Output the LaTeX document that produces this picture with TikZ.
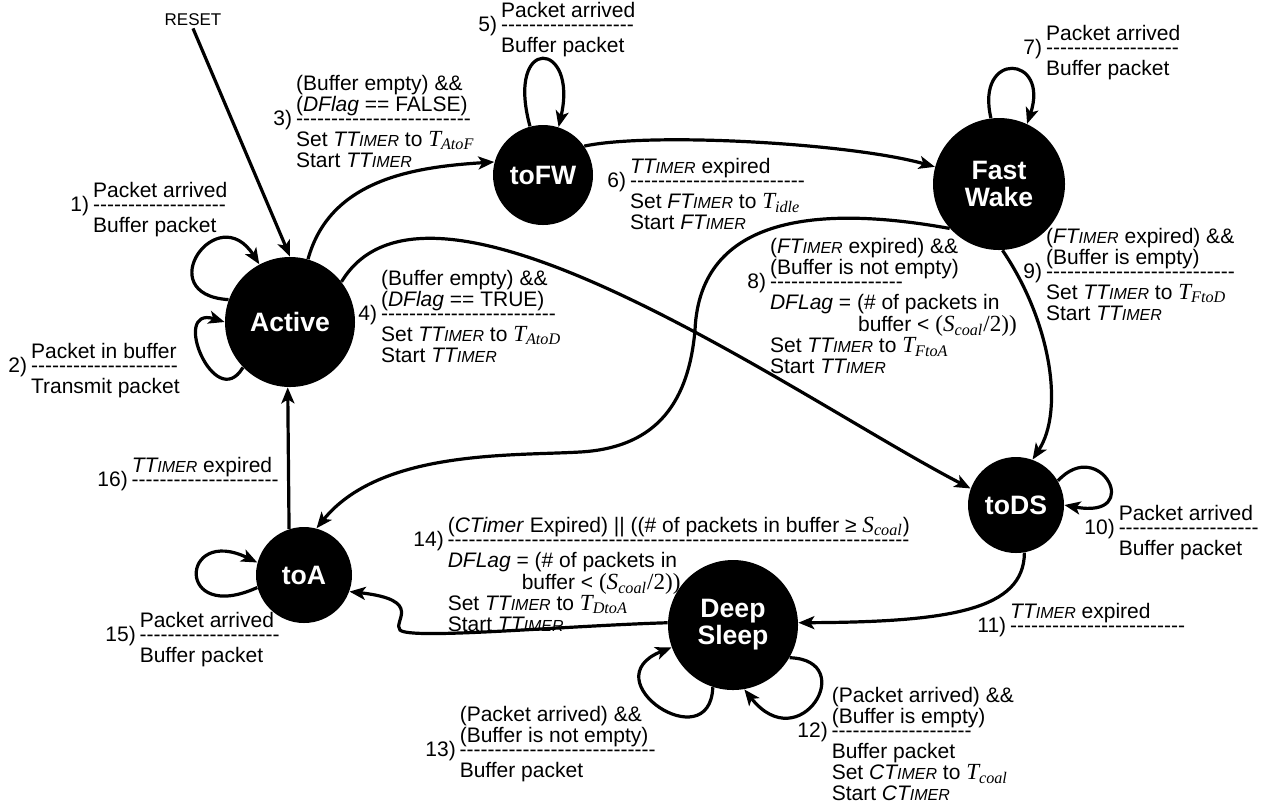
\documentclass[tikz,border=0pt]{standalone}
\usepackage{fontspec}
\setmainfont{Liberation Sans}
\newfontfamily\serf{Liberation Serif}[Scale=1.1]
\usetikzlibrary{arrows.meta}
\ExplSyntaxOn
\NewDocumentCommand\hyrow{m}{\prg_replicate:nn{#1}{\mbox{-}}}
\ExplSyntaxOff
\newcommand\tmr[1]{\textit{#1{\fontsize{8}{8}\selectfont IMER}}}
\newcommand\Tsub[2]{{\serf\itshape #1\textsubscript{#2}}}
\newcommand\scoal{{\serf(\textit{S}\textsubscript{\textit{coal}}/2))}}
\newenvironment{lb}{\begin{tabular}[t]{@{}r@{\hspace{2pt}}l@{}}}{\end{tabular}}
\begin{document}
\begin{tikzpicture}[x=0.5pt,y=-0.5pt,
  st/.style={circle,fill=black,text=white,inner sep=0pt,align=center,font=\fontsize{13.3}{13.5}\selectfont\bfseries},
  lbl/.style={inner sep=0pt,anchor=base west,font=\fontsize{10.5}{10}\selectfont},
  arr/.style={line width=1.6pt,-{Stealth[length=8pt,width=6.5pt,inset=2pt]}},
]
\useasboundingbox (0,0) rectangle (1278,811);

\node[st,minimum size=65pt] (act) at (290,322) {Active};
\node[st,minimum size=50pt] (tofw) at (543,175) {toFW};
\node[st,minimum size=66pt] (fw) at (999,184) {Fast\\Wake};
\node[st,minimum size=48pt] (tods) at (1016,505) {toDS};
\node[st,minimum size=65pt] (ds) at (733,625) {Deep\\Sleep};
\node[st,minimum size=48pt] (toa) at (304,575) {toA};
\node[font=\fontsize{8.5}{9}\selectfont,inner sep=1pt] (reset) at (193,20) {RESET};

\draw[arr] (reset.south) -- (act.north);
\draw[arr] (act.160) .. controls +(-79,-5) and +(-42,-66) .. (act.118);
\draw[arr] (act.224) .. controls +(-28,47) and +(-55,-17) .. (act.180);
\draw[arr] (act.74) .. controls +(22,-80) and +(-80,5) .. (tofw.165);
\draw[arr] (act.38) .. controls (430,135) and (800,400) .. (tods.160);
\draw[arr] (tofw.105) .. controls +(-25,-92) and +(20,-87) .. (tofw.72);
\draw[arr] (tofw.35) .. controls (650,132) and (850,143) .. (fw.165);
\draw[arr] (fw.97) .. controls (975,50) and (1050,55) .. (fw.65);
\draw[arr] (fw.222) .. controls (820,205) and (700,215) .. (695,330)
   .. controls (688,410) and (650,448) .. (580,452)
   .. controls (510,456) and (380,450) .. (toa.75);
\draw[arr] (fw.273) .. controls (1050,320) and (1065,410) .. (tods.70);
\draw[arr] (tods.30) .. controls (1100,435) and (1145,520) .. (tods.0);
\draw[arr] (tods.280) .. controls (1024,610) and (950,622) .. (ds.2);
\draw[arr] (ds.-30) .. controls (860,660) and (800,760) .. (ds.-80);
\draw[arr] (ds.252) .. controls (710,760) and (590,680) .. (ds.200);
\draw[arr] (ds.178) .. controls (560,626) and (410,640) .. (400,630)
   .. controls (392,622) and (425,600) .. (toa.-20);
\draw[arr] (toa.195) .. controls (175,625) and (180,525) .. (toa.165);
\draw[arr] (toa.108) -- (act.268);

\node[lbl] (l1) at (70,197) {\begin{lb} & Packet arrived\\[-3.5pt] 1) & \hyrow{19}\\ & Buffer packet\end{lb}};
\node[lbl] (l2) at (8,358) {\begin{lb} & Packet in buffer\\[-3.5pt] 2) & \hyrow{21}\\ & Transmit packet\end{lb}};
\node[lbl] (l3) at (273,90) {\begin{lb} & (Buffer empty) \&\&\\ & (\textit{DFlag} == FALSE)\\[-3.5pt] 3) & \hyrow{25}\\ & Set \tmr{TT} to \Tsub{T}{AtoF}\\ & Start \tmr{TT}\end{lb}};
\node[lbl] (l4) at (358,285) {\begin{lb} & (Buffer empty) \&\&\\ & (\textit{DFlag} == TRUE)\\[-3.5pt] 4) & \hyrow{25}\\ & Set \tmr{TT} to \Tsub{T}{AtoD}\\ & Start \tmr{TT}\end{lb}};
\node[lbl] (l5) at (478,17) {\begin{lb} & Packet arrived\\[-3.5pt] 5) & \hyrow{19}\\ & Buffer packet\end{lb}};
\node[lbl] (l6) at (607,173) {\begin{lb} & \tmr{TT} expired\\[-3.5pt] 6) & \hyrow{25}\\ & Set \tmr{FT} to \Tsub{T}{idle}\\ & Start \tmr{FT}\end{lb}};
\node[lbl] (l7) at (1023,40) {\begin{lb} & Packet arrived\\[-3.5pt] 7) & \hyrow{19}\\ & Buffer packet\end{lb}};
\node[lbl] (l8) at (747,253) {\begin{lb} & (\tmr{FT} expired) \&\&\\ & (Buffer is not empty)\\[-3.5pt] 8) & \hyrow{19}\\ & \textit{DFLag} = (\# of packets in\\ & \hspace{44pt}buffer < \scoal\\ & Set \tmr{TT} to \Tsub{T}{FtoA}\\ & Start \tmr{TT}\end{lb}};
\node[lbl] (l9) at (1023,243) {\begin{lb} & (\tmr{FT} expired) \&\&\\ & (Buffer is empty)\\[-3.5pt] 9) & \hyrow{27}\\ & Set \tmr{TT} to \Tsub{T}{FtoD}\\ & Start \tmr{TT}\end{lb}};
\node[lbl] (l10) at (1084,520) {\begin{lb} & Packet arrived\\[-3.5pt] 10) & \hyrow{20}\\ & Buffer packet\end{lb}};
\node[lbl] (l11) at (977,618) {\begin{lb} & \tmr{TT} expired\\[-3.5pt] 11) & \hyrow{25}\end{lb}};
\node[lbl] (l12) at (797,702) {\begin{lb} & (Packet arrived) \&\&\\ & (Buffer is empty)\\[-3.5pt] 12) & \hyrow{20}\\ & Buffer packet\\ & Set \tmr{CT} to \Tsub{T}{coal}\\ & Start \tmr{CT}\end{lb}};
\node[lbl] (l13) at (425,721) {\begin{lb} & (Packet arrived) \&\&\\ & (Buffer is not empty)\\[-3.5pt] 13) & \hyrow{28}\\ & Buffer packet\end{lb}};
\node[lbl] (l14) at (413,532) {\begin{lb} & (\textit{CTimer} Expired) || ((\# of packets in buffer ≥ \Tsub{S}{coal})\\[-3.5pt] 14) & \hyrow{66}\\ & \textit{DFLag} = (\# of packets in\\ & \hspace{37pt}buffer < \scoal\\ & Set \tmr{TT} to \Tsub{T}{DtoA}\\ & Start \tmr{TT}\end{lb}};
\node[lbl] (l15) at (105,627) {\begin{lb} & Packet arrived\\[-3.5pt] 15) & \hyrow{20}\\ & Buffer packet\end{lb}};
\node[lbl] (l16) at (97,472) {\begin{lb} & \tmr{TT} expired\\[-3.5pt] 16) & \hyrow{21}\end{lb}};
\end{tikzpicture}
\end{document}
